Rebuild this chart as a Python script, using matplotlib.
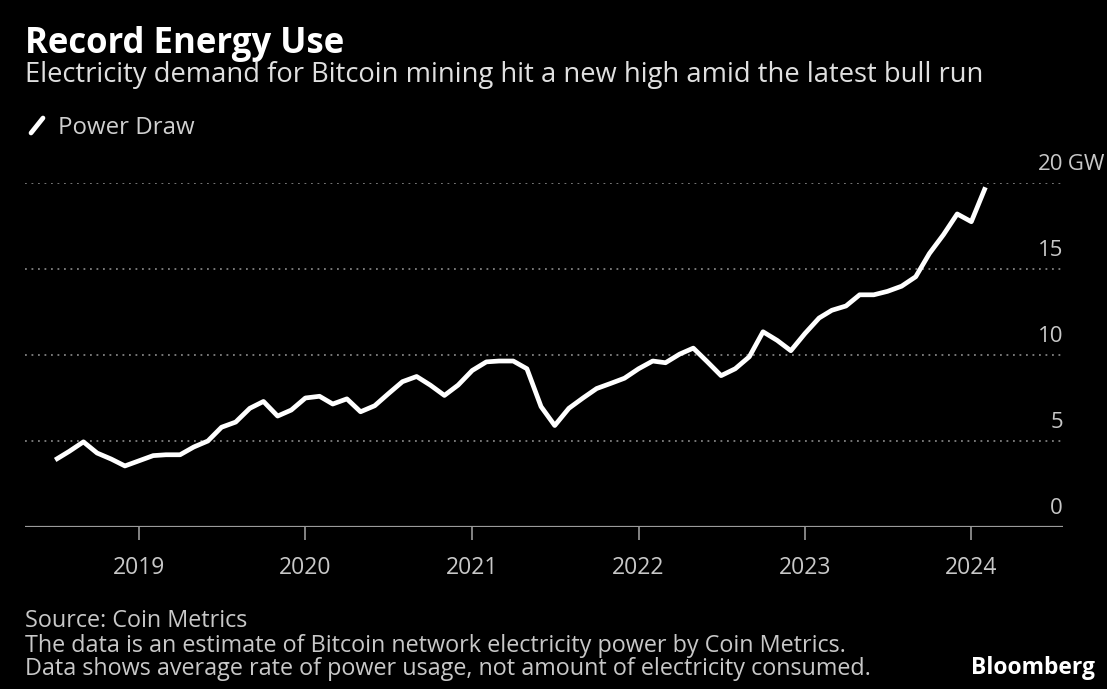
import pandas as pd
import numpy as np
import matplotlib
matplotlib.use("Agg")
import matplotlib.pyplot as plt
import matplotlib.dates as mdates
from matplotlib.lines import Line2D

# monthly Bitcoin network power draw, GW (Jul 2018 - Feb 2024)
months = pd.date_range("2018-07-01", periods=68, freq="MS")
power_gw = [
    3.9, 4.4, 4.95, 4.3, 3.95, 3.55,                                   # 2018 H2
    3.85, 4.15, 4.2, 4.2, 4.65, 5.0, 5.8, 6.1, 6.9, 7.3, 6.45, 6.8,      # 2019
    7.5, 7.6, 7.15, 7.45, 6.7, 7.05, 7.75, 8.45, 8.75, 8.25, 7.65, 8.25, # 2020
    9.1, 9.6, 9.65, 9.65, 9.2, 7.0, 5.9, 6.9, 7.5, 8.05, 8.35, 8.65,     # 2021
    9.2, 9.65, 9.55, 10.05, 10.4, 9.6, 8.8, 9.2, 9.9, 11.35, 10.85, 10.25, # 2022
    11.25, 12.15, 12.6, 12.85, 13.5, 13.5, 13.7, 14.0, 14.55, 15.9, 17.0, 18.2, # 2023
    17.75, 19.75,                                                        # 2024
]
y_ticks = [0, 5, 10, 15, 20]
year_ticks = [2019, 2020, 2021, 2022, 2023, 2024]

plt.rcParams["font.family"] = ["Open Sans", "DejaVu Sans"]
BG = "black"
LABEL = "#c8c8c8"

W, H = 1107, 689
fig = plt.figure(figsize=(W / 100, H / 100), dpi=100, facecolor=BG)

def fx(px):
    return px / W

def fy(py):
    return 1 - py / H

ax = fig.add_axes([fx(25), fy(527), fx(1063) - fx(25), fy(183) - fy(527)])
ax.set_facecolor(BG)

t0 = mdates.date2num(pd.Timestamp("2019-01-01"))
ax.set_xlim(t0 - 0.685 * 365.25, t0 + 5.55 * 365.25)
ax.set_ylim(0, 20)

# dotted gridlines and solid zero line
for v in y_ticks[1:]:
    ax.axhline(v, color="#808080", lw=1.3, ls=(0, (1, 2.6)), zorder=1)
ax.axhline(0, color="#9a9a9a", lw=1.6, zorder=2)

ax.plot(months, power_gw, color="white", lw=3.4, solid_joinstyle="round",
        solid_capstyle="butt", zorder=3, clip_on=False)

for s in ax.spines.values():
    s.set_visible(False)
ax.set_yticks([])
ax.set_xticks([mdates.date2num(pd.Timestamp(f"{y}-01-01")) for y in year_ticks])
ax.set_xticklabels([str(y) for y in year_ticks])
ax.tick_params(axis="x", colors="#9a9a9a", length=9, width=1.2, pad=12,
               labelsize=16.5, labelcolor=LABEL)

# value labels on the right, sitting above each gridline
ytrans = ax.get_yaxis_transform()
for v in y_ticks:
    ax.annotate(str(v), xy=(1.0, v), xycoords=ytrans, xytext=(0, 6),
                textcoords="offset points", ha="right", va="bottom",
                color=LABEL, fontsize=16)
ax.annotate(" GW", xy=(1.0, 20), xycoords=ytrans, xytext=(-1, 6),
            textcoords="offset points", ha="left", va="bottom",
            color=LABEL, fontsize=16)

fig.text(fx(25), fy(53), "Record Energy Use", color="white", fontsize=25,
         fontweight="bold", va="baseline")
fig.text(fx(25), fy(82), "Electricity demand for Bitcoin mining hit a new high amid the latest bull run",
         color="#e0e0e0", fontsize=19.7, va="baseline")

fig.add_artist(Line2D([fx(31), fx(43)], [fy(133), fy(118)], color="white",
                      lw=3.4, solid_capstyle="round"))
fig.text(fx(58), fy(134), "Power Draw", color="#d0d0d0", fontsize=17.3, va="baseline")

fig.text(fx(25), fy(627), "Source: Coin Metrics", color=LABEL, fontsize=16.8, va="baseline")
fig.text(fx(25), fy(652), "The data is an estimate of Bitcoin network electricity power by Coin Metrics.",
         color=LABEL, fontsize=16.8, va="baseline")
fig.text(fx(25), fy(675), "Data shows average rate of power usage, not amount of electricity consumed.",
         color=LABEL, fontsize=16.8, va="baseline")
fig.text(fx(1095), fy(674), "Bloomberg", color="white", fontsize=16.5,
         fontweight="bold", ha="right", va="baseline")

fig.savefig("out.png", dpi=100, facecolor=BG)
